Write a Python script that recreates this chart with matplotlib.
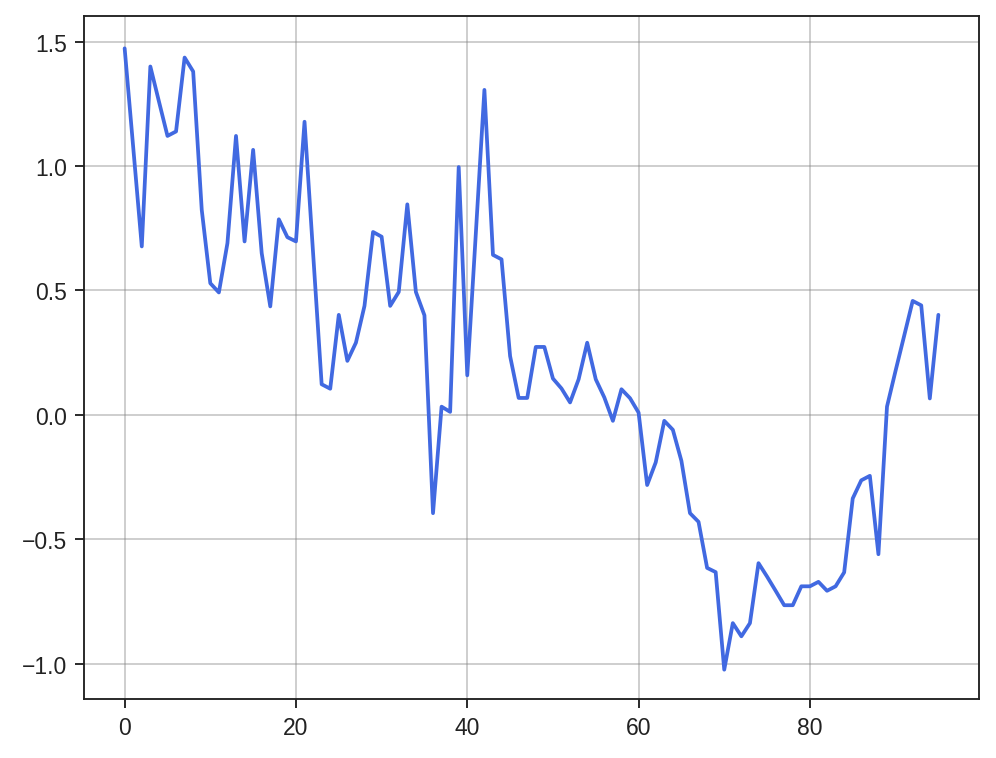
import numpy as np
import matplotlib
matplotlib.use('Agg')
import matplotlib.pyplot as plt
import seaborn as sns

# values, index 0..95
values = [1.473, 1.075, 0.677, 1.40, 1.26, 1.121, 1.139, 1.436, 1.380, 0.824,
          0.529, 0.492, 0.690, 1.121, 0.697, 1.065, 0.650, 0.436, 0.786, 0.714,
          0.697, 1.178, 0.650, 0.123, 0.105, 0.402, 0.217, 0.290, 0.438, 0.735,
          0.716, 0.438, 0.494, 0.846, 0.494, 0.400, -0.395, 0.033, 0.012, 0.996,
          0.159, 0.730, 1.306, 0.643, 0.625, 0.236, 0.068, 0.068, 0.273, 0.273,
          0.146, 0.106, 0.050, 0.143, 0.290, 0.143, 0.070, -0.024, 0.103, 0.067,
          0.009, -0.282, -0.191, -0.024, -0.060, -0.185, -0.395, -0.430, -0.615, -0.632,
          -1.024, -0.837, -0.890, -0.837, -0.596, -0.650, -0.707, -0.765, -0.765, -0.689,
          -0.689, -0.671, -0.707, -0.689, -0.633, -0.336, -0.263, -0.245, -0.560, 0.033,
          0.177, 0.317, 0.458, 0.440, 0.066, 0.402]
x = np.arange(len(values))


def main():
    sns.set_style("ticks")
    plt.rcParams['font.family'] = ['Liberation Sans', 'DejaVu Sans']

    fig, ax = plt.subplots(figsize=(6.64, 5.06), dpi=150)
    fig.subplots_adjust(left=0.0843, right=0.983, top=0.9776, bottom=0.0777)

    ax.plot(x, values, color='royalblue', linewidth=1.8)
    ax.grid(True, color='gray', alpha=0.45, linewidth=0.8)

    ax.set_xticks([0, 20, 40, 60, 80])
    ax.set_yticks([-1.0, -0.5, 0.0, 0.5, 1.0, 1.5])
    ax.set_ylim(-1.142, 1.603)

    for sp in ax.spines.values():
        sp.set_color('#222222')
        sp.set_linewidth(0.9)
    ax.tick_params(colors='#222222', labelsize=11, length=4.5, width=0.9)

    fig.savefig('out.png', dpi=150)


main()
